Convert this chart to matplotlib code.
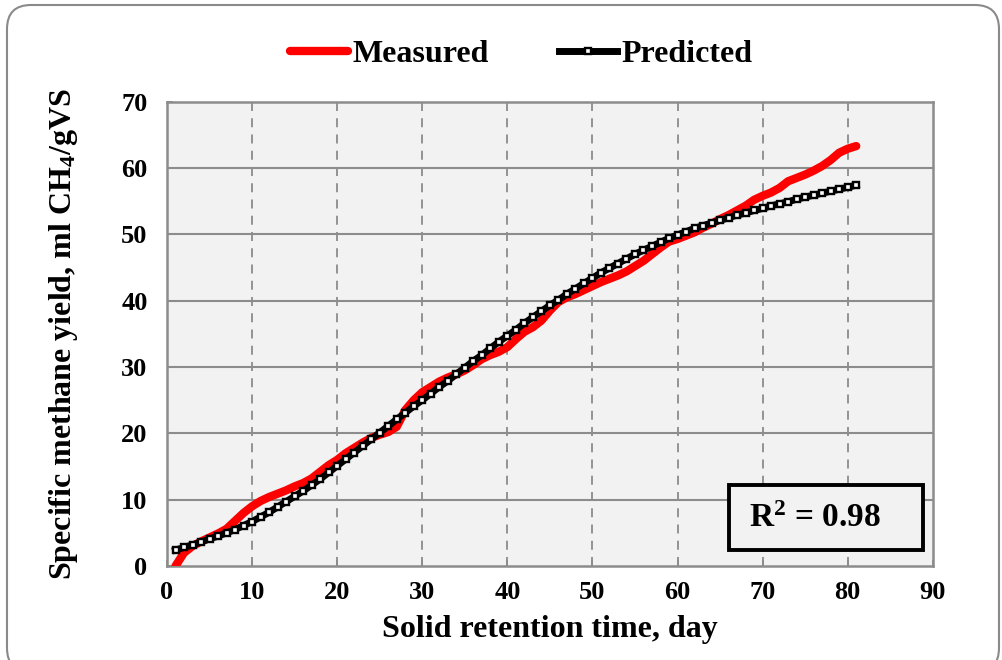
import matplotlib
matplotlib.use('Agg')
import matplotlib.pyplot as plt
from matplotlib.patches import FancyBboxPatch, Rectangle
from matplotlib.transforms import IdentityTransform

plt.rcParams['font.family'] = ['Liberation Serif', 'DejaVu Serif']
plt.rcParams['font.weight'] = 'bold'
plt.rcParams['mathtext.fontset'] = 'custom'
plt.rcParams['mathtext.rm'] = 'Liberation Serif:bold'
plt.rcParams['mathtext.bf'] = 'Liberation Serif:bold'
plt.rcParams['mathtext.it'] = 'Liberation Serif:bold'

# solid retention time, day
days = list(range(1, 82))

# measured specific methane yield, ml CH4/gVS
measured = [0.0, 2.0, 3.0, 3.7, 4.3, 4.9, 5.6, 6.8, 8.0, 9.0,
            9.8, 10.4, 10.9, 11.4, 12.0, 12.5, 13.2, 14.2, 15.2, 16.0,
            17.0, 17.8, 18.6, 19.3, 19.8, 20.2, 21.0, 23.5, 25.0, 26.2,
            27.0, 27.8, 28.4, 28.9, 29.5, 30.3, 31.2, 31.8, 32.3, 33.0,
            34.2, 35.3, 36.0, 37.0, 38.5, 39.8, 40.5, 41.0, 41.6, 42.2,
            42.8, 43.3, 43.8, 44.4, 45.2, 46.0, 47.0, 48.0, 48.9, 49.3,
            49.8, 50.3, 51.0, 51.6, 52.3, 52.9, 53.6, 54.3, 55.2, 55.8,
            56.3, 57.0, 58.0, 58.5, 59.0, 59.6, 60.3, 61.2, 62.3, 62.9,
            63.3]

# model prediction
predicted = [2.4, 2.8, 3.2, 3.6, 4.1, 4.5, 5.0, 5.5, 6.1, 6.7,
             7.4, 8.1, 8.9, 9.7, 10.5, 11.3, 12.2, 13.1, 14.1, 15.1,
             16.1, 17.1, 18.1, 19.1, 20.1, 21.1, 22.1, 23.1, 24.1, 25.0,
             26.0, 27.0, 27.9, 28.9, 29.9, 30.9, 31.8, 32.8, 33.8, 34.7,
             35.6, 36.6, 37.5, 38.4, 39.3, 40.1, 41.0, 41.8, 42.6, 43.4,
             44.2, 44.9, 45.6, 46.3, 47.0, 47.6, 48.2, 48.8, 49.4, 49.9,
             50.4, 50.9, 51.3, 51.7, 52.1, 52.5, 52.9, 53.2, 53.6, 53.9,
             54.3, 54.6, 54.9, 55.3, 55.6, 55.9, 56.2, 56.5, 56.8, 57.1,
             57.4]

xticks = list(range(0, 91, 10))
yticks = list(range(0, 71, 10))
r2_text = 'R$^{\\mathbf{2}}$ = 0.98'

fig = plt.figure(figsize=(10.03, 6.6), dpi=100)
ax = fig.add_axes([0.1665, 0.1424, 0.7635, 0.7036])
ax.set_facecolor('#f2f2f2')

gray = '#8c8c8c'
for x in xticks[1:-1]:
    ax.axvline(x, color=gray, lw=1.3, ls=(0, (5, 4)), zorder=1)
for y in yticks[1:-1]:
    ax.axhline(y, color=gray, lw=1.5, zorder=1)

ax.plot(days, measured, color='#ff0000', lw=6, solid_capstyle='round',
        label='Measured', zorder=3)
ax.plot(days, predicted, color='black', lw=5, marker='s', ms=5,
        mfc='white', mec='black', mew=1.7, label='Predicted', zorder=4)

ax.set_xlim(0, 90)
ax.set_ylim(0, 70)
ax.set_xticks(xticks)
ax.set_yticks(yticks)
for s in ax.spines.values():
    s.set_color(gray)
    s.set_linewidth(1.8)
ax.tick_params(axis='both', length=4, width=1.3, color=gray, direction='in',
               labelsize=19)
ax.tick_params(axis='y', pad=14)
ax.tick_params(axis='x', pad=11)
for lab in ax.get_xticklabels() + ax.get_yticklabels():
    lab.set_fontweight('bold')

ax.set_xlabel('Solid retention time, day', fontsize=23, fontweight='bold', labelpad=8)
ax.set_ylabel('Specific methane yield, ml CH$_{\\mathbf{4}}$/gVS', fontsize=23,
              fontweight='bold', labelpad=30)

# R2 box
ax.add_patch(Rectangle((66.0, 2.4), 22.8, 9.8, fc='#f2f2f2', ec='black', lw=2.8,
                       zorder=6))
ax.text(68.4, 7.2, r2_text, fontsize=24, fontweight='bold', va='center', ha='left',
        zorder=7)

fig.legend(loc='center', bbox_to_anchor=(0.52, 0.918), ncol=2, frameon=False,
           handlelength=1.8, handletextpad=0.15, columnspacing=2.2,
           prop={'weight': 'bold', 'size': 23})

border = FancyBboxPatch((7, -12), 992, 667,
                        boxstyle='round,pad=0,rounding_size=24',
                        transform=IdentityTransform(), fc='none', ec='#8a8a8a', lw=1.5)
fig.patches.append(border)

fig.savefig('out.png', dpi=100)
